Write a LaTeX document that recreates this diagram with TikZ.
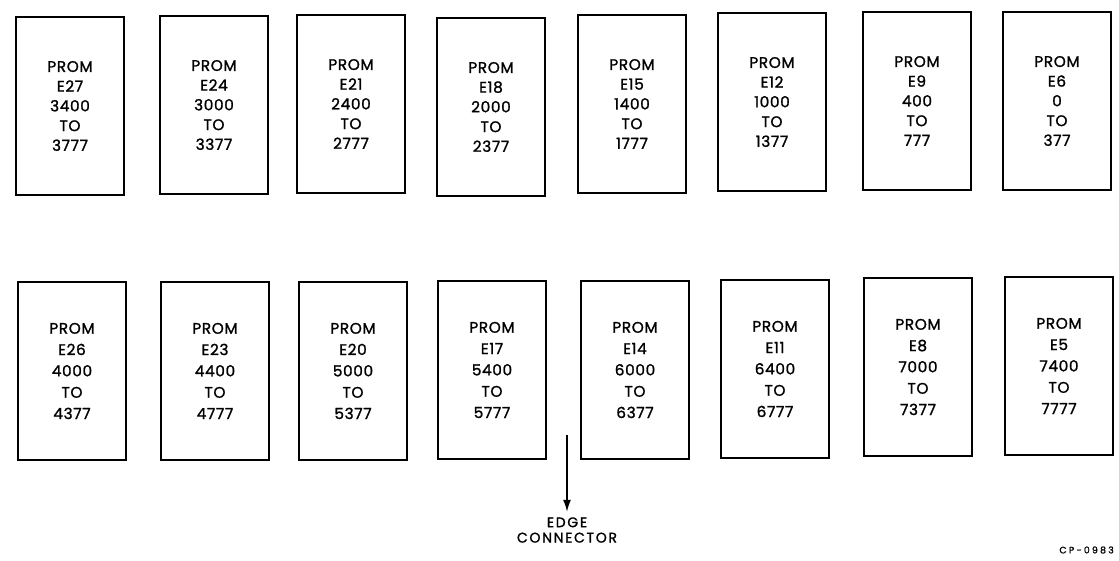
\documentclass[tikz,border=0pt]{standalone}
\usepackage{fontspec}
\setmainfont{Poppins}
\usetikzlibrary{arrows.meta}

\tikzset{
  promchip/.style={draw,line width=1.4pt,minimum width=81pt,minimum height=133.5pt,
    inner sep=0pt,align=center,font=\fontsize{11.5}{14.8}\selectfont\addfontfeature{LetterSpace=4,FakeBold=1.3}},
  lowchip/.style={promchip,font=\fontsize{11.5}{16}\selectfont\addfontfeature{LetterSpace=4,FakeBold=1.3}},
  edgelabel/.style={align=center,inner sep=1pt,font=\fontsize{10.5}{11.5}\selectfont\addfontfeature{LetterSpace=12,FakeBold=1.3}},
  figno/.style={inner sep=0pt,font=\fontsize{7}{8}\selectfont\addfontfeature{LetterSpace=24,FakeBold=1.3}}
}

\begin{document}
\begin{tikzpicture}[x=0.75pt,y=-0.75pt,>={Latex[length=9pt,width=6pt]}]
    \useasboundingbox (0,0) rectangle (1119,560);

    % Upper row of PROMs
    \node[promchip] (e27) at (70,106) {PROM\\E27\\3400\\TO\\3777};
    \node[promchip] (e24) at (214,105) {PROM\\E24\\3000\\TO\\3377};
    \node[promchip] (e21) at (351,104) {PROM\\E21\\2400\\TO\\2777};
    \node[promchip] (e18) at (491,107) {PROM\\E18\\2000\\TO\\2377};
    \node[promchip] (e15) at (632,104) {PROM\\E15\\1400\\TO\\1777};
    \node[promchip] (e12) at (772,102) {PROM\\E12\\1000\\TO\\1377};
    \node[promchip] (e9) at (917,101) {PROM\\E9\\400\\TO\\777};
    \node[promchip] (e6) at (1057,101) {PROM\\E6\\0\\TO\\377};

    % Lower row of PROMs
    \node[lowchip] (e26) at (72,371) {PROM\\E26\\4000\\TO\\4377};
    \node[lowchip] (e23) at (215,371) {PROM\\E23\\4400\\TO\\4777};
    \node[lowchip] (e20) at (353,371) {PROM\\E20\\5000\\TO\\5377};
    \node[lowchip] (e17) at (492,370) {PROM\\E17\\5400\\TO\\5777};
    \node[lowchip] (e14) at (635,370) {PROM\\E14\\6000\\TO\\6377};
    \node[lowchip] (e11) at (775,369) {PROM\\E11\\6400\\TO\\6777};
    \node[lowchip] (e8) at (918,367) {PROM\\E8\\7000\\TO\\7377};
    \node[lowchip] (e5) at (1059,366) {PROM\\E5\\7400\\TO\\7777};

    % Edge connector
    \coordinate (ectail) at (567,435);
    \node[edgelabel] (edge) at (567,530) {EDGE\\CONNECTOR};
    \draw[->,line width=1pt] (ectail) -- ([yshift=3pt]edge.north);

    % Figure number
    \node[figno,anchor=east] (cp) at (1114,550) {CP-0983};
\end{tikzpicture}
\end{document}
